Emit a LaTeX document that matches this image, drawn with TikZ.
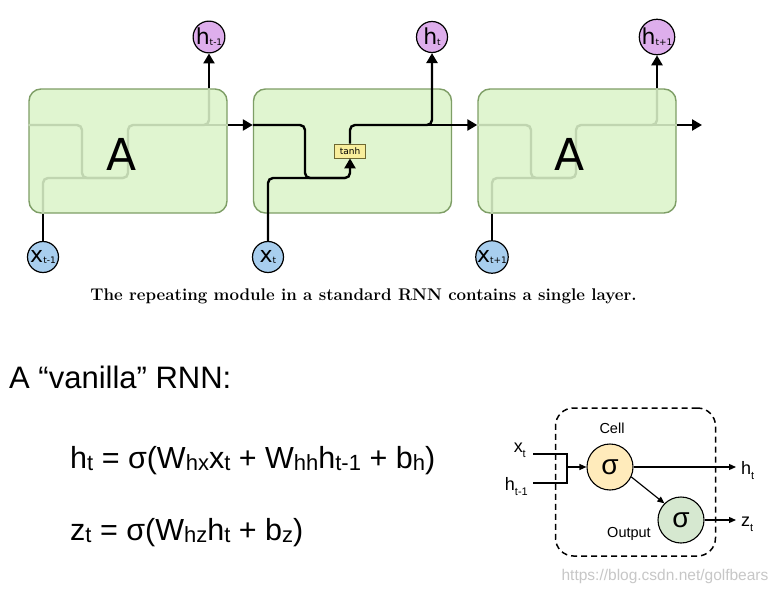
\documentclass[tikz,border=0pt]{standalone}
\usepackage{fontspec}
\newfontfamily\dvs{DejaVu Sans}
\newfontfamily\ars{Liberation Sans}
\usetikzlibrary{arrows.meta}
\definecolor{boxfill}{RGB}{224,245,208}
\definecolor{boxedge}{RGB}{126,158,102}
\definecolor{faintline}{RGB}{192,213,176}
\definecolor{hpurple}{RGB}{222,174,236}
\definecolor{xblue}{RGB}{168,206,238}
\definecolor{tanhfill}{RGB}{248,238,156}
\definecolor{tanhedge}{RGB}{110,104,50}
\definecolor{cellfill}{RGB}{255,235,187}
\definecolor{outfill}{RGB}{214,232,208}
\newcommand{\eqsub}[1]{\raisebox{-2pt}{\fontsize{22}{22}\selectfont #1}}
\newcommand{\lblsub}[1]{\raisebox{-5pt}{\fontsize{11}{11}\selectfont #1}}
\newcommand{\circlbl}[2]{{\fontsize{22}{22}\selectfont #1}\raisebox{-1pt}{\fontsize{9}{9}\selectfont #2}}
\begin{document}
\begin{tikzpicture}[x=1pt,y=-1pt,
  cellbox/.style={draw=boxedge, fill=boxfill, line width=1.4pt, rounded corners=12pt,
    minimum width=198pt, minimum height=124pt, inner sep=0pt},
  hcirc/.style={circle, draw=black, line width=1.2pt, fill=hpurple, minimum size=31pt,
    inner sep=0pt, font=\dvs},
  xcirc/.style={hcirc, fill=xblue},
  flow/.style={line width=2.4pt, rounded corners=5pt},
  faint/.style={flow, draw=faintline},
  tip/.style={-{Triangle[length=10pt,width=11pt]}},
  bigA/.style={font=\dvs\fontsize{44}{44}\selectfont},
  eqtext/.style={anchor=base west, font=\ars\fontsize{30.5}{30.5}\selectfont, inner sep=0pt},
  lbl/.style={font=\ars\fontsize{18}{18}\selectfont, inner sep=0pt},
  small/.style={font=\ars\fontsize{14.5}{14.5}\selectfont, inner sep=0pt},
  sig/.style={circle, draw=black, line width=1.1pt, minimum size=46pt, inner sep=0pt,
    font=\ars\fontsize{28}{28}\selectfont},
  thin/.style={line width=1.2pt},
  stip/.style={-{Triangle[length=7pt,width=6pt]}}
]
\useasboundingbox (0,0) rectangle (779,594);
\fill[white] (0,0) rectangle (779,594);

% ---------- top: unrolled RNN ----------
\node[cellbox] (A1) at (128,151) {};
\node[cellbox] (A2) at (352.5,151) {};
\node[cellbox] (A3) at (577,151) {};

\coordinate (e1) at (A1.east |- 0,125);
\coordinate (w2) at (A2.west |- 0,125);
\coordinate (e2) at (A2.east |- 0,125);
\coordinate (w3) at (A3.west |- 0,125);
\coordinate (e3) at (A3.east |- 0,125);
\coordinate (out3) at (702,125);

% faint paths inside boxes 1 and 3
\draw[faint] (A1.west |- 0,125) -- (82,125) -- (82,178) -- (128,178) -- (128,125) -- (209,125) -- (209,89);
\draw[faint] (203,125) -- (e1);
\draw[faint] (43,213) -- (43,178) -- (123,178);
\draw[faint] (w3) -- (531,125) -- (531,178) -- (576,178) -- (576,125) -- (657,125) -- (657,89);
\draw[faint] (651,125) -- (e3);
\draw[faint] (492,213) -- (492,178) -- (571,178);

\node[bigA] (LA1) at (122,154) {A};
\node[bigA] (LA3) at (570,154) {A};

% circles
\node[hcirc] (h1) at (209,37) {\circlbl{h}{t-1}};
\node[hcirc] (h2) at (432,37) {\circlbl{h}{t}};
\node[hcirc] (h3) at (657,37) {\circlbl{h}{t+1}};
\node[xcirc] (x1) at (43,257) {\circlbl{x}{t-1}};
\node[xcirc] (x2) at (268,257) {\circlbl{x}{t}};
\node[xcirc] (x3) at (492,257) {\circlbl{x}{t+1}};

% tanh layer
\node[draw=tanhedge, fill=tanhfill, line width=0.8pt, minimum width=31pt, minimum height=14pt,
  inner sep=0pt, font=\dvs\fontsize{9}{9}\selectfont] (tanh) at (350,151) {tanh};

% black connectors
\draw[flow, tip] (A1.north -| h1) -- (h1.south);
\draw[flow, tip] (e1) -- (w2);
\draw[flow] (x1.north) -- (x1 |- A1.south);
\draw[flow, tip] (w2) -- (305,125) -- (305,178) -- (350,178) -- (tanh.south);
\draw[flow] (x2.north) -- (268,178) -- (345,178);
\draw[flow, tip] (tanh.north) -- (350,125) -- (432,125) -- (h2.south);
\draw[flow, tip] (424,125) -- (w3);
\draw[flow, tip] (A3.north -| h3) -- (h3.south);
\draw[flow, tip] (e3) -- (out3);
\draw[flow] (x3.north) -- (x3 |- A3.south);

% caption
\node[font=\bfseries\fontsize{16.9}{16.9}\selectfont, inner sep=0pt] (cap) at (363.5,296)
  {The repeating module in a standard RNN contains a single layer.};

% ---------- bottom left: equations ----------
\node[anchor=base west, font=\ars\fontsize{31}{31}\selectfont, inner sep=0pt] (title) at (9,388)
  {A “vanilla” RNN:};
\node[eqtext] (eq1) at (70,468)
  {h\eqsub{t} = σ(W\eqsub{hx}x\eqsub{t} + W\eqsub{hh}h\eqsub{t-1} + b\eqsub{h})};
\node[eqtext] (eq2) at (70,540)
  {z\eqsub{t} = σ(W\eqsub{hz}h\eqsub{t} + b\eqsub{z})};

% ---------- bottom right: cell diagram ----------
\node[draw, line width=1.5pt, dash pattern=on 6pt off 4pt, rounded corners=18pt,
  minimum width=160pt, minimum height=148pt, inner sep=0pt] (frame) at (635.5,482) {};
\node[sig, fill=cellfill] (cell) at (610,467) {σ};
\node[sig, fill=outfill] (outc) at (681,520) {σ};
\node[small, anchor=base] (celll) at (612,433) {Cell};
\node[small, anchor=base] (outl) at (629,537) {Output};

\node[lbl, anchor=base east] (xl) at (526,452) {x\lblsub{t}};
\node[lbl, anchor=base east] (hl) at (528,490) {h\lblsub{t-1}};
\coordinate (xs) at (533,454);
\coordinate (hs) at (533,483);
\coordinate (jx) at (567,454);
\coordinate (jh) at (567,483);
\coordinate (jm) at (567,467);
\draw[thin] (xs) -- (jx) -- (jh) -- (hs);
\draw[thin, stip] (jm) -- (cell.west);

\coordinate (ht) at (736,467);
\coordinate (zt) at (736,520);
\draw[thin, stip] (cell.east) -- (ht);
\draw[thin, stip] (cell.-25) -- (outc.135);
\draw[thin, stip] (outc.east) -- (zt);
\node[lbl, anchor=base west] (htl) at (741,474) {h\lblsub{t}};
\node[lbl, anchor=base west] (ztl) at (741,526) {z\lblsub{t}};

\node[anchor=base, inner sep=0pt, text=black!22, font=\ars\fontsize{15.5}{15.5}\selectfont] (wm) at (665,580)
  {https://blog.csdn.net/golfbears};
\end{tikzpicture}
\end{document}
